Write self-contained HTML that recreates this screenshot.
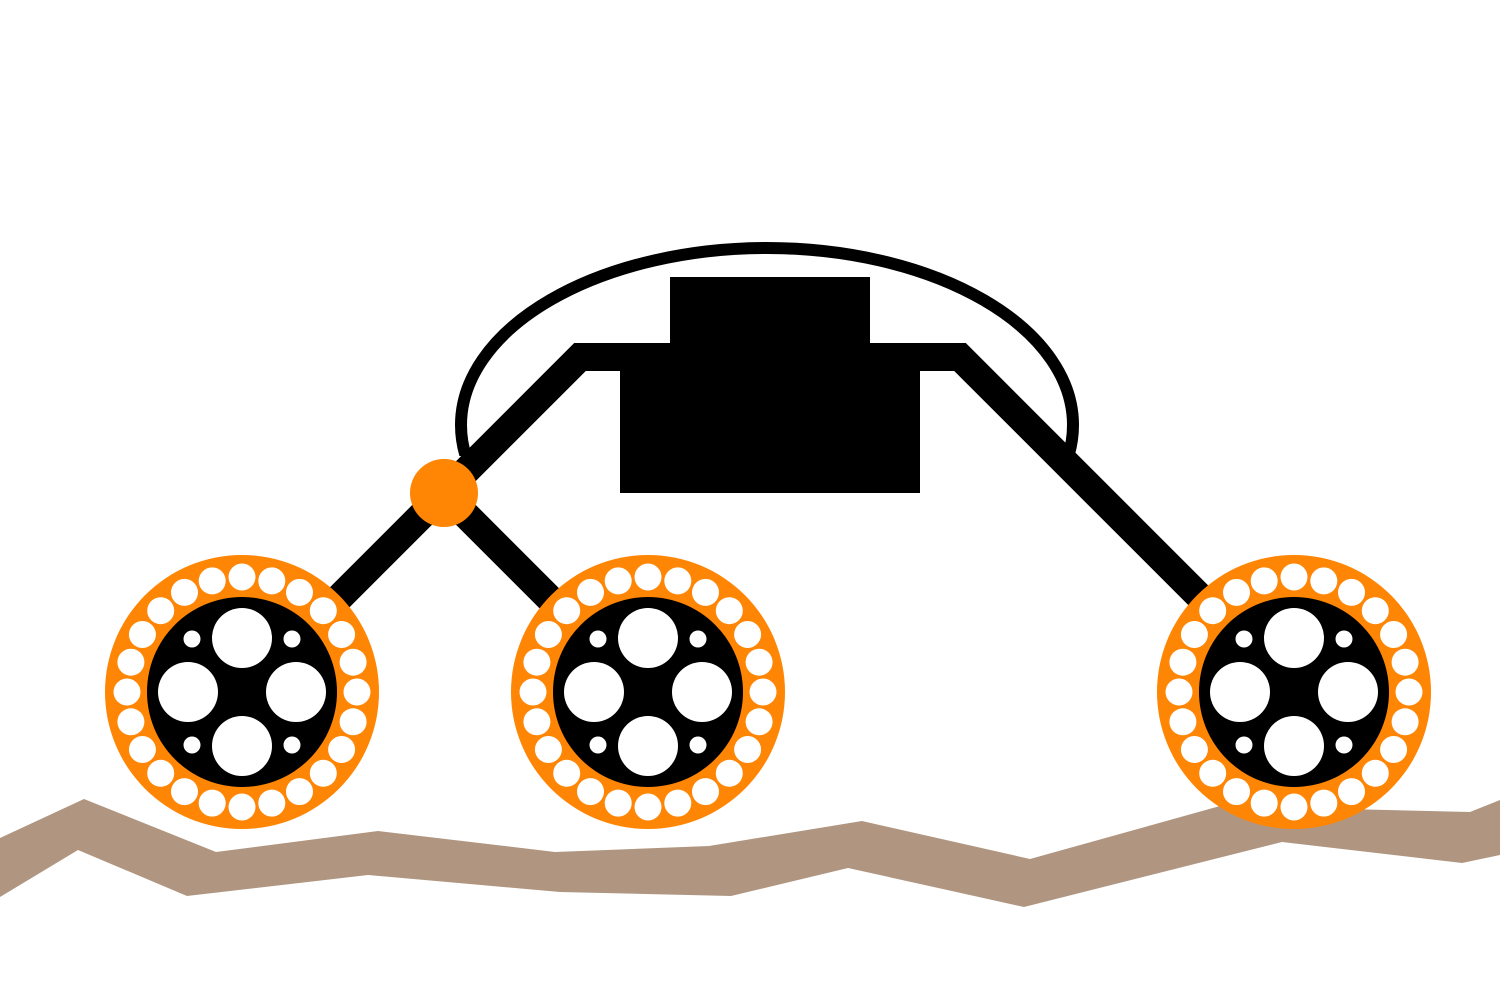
<!DOCTYPE html>
<html><head><style>html,body{margin:0;padding:0;background:#fff;}svg{display:block}</style></head>
<body>
<svg width="1500" height="1000" viewBox="0 0 1500 1000" xmlns="http://www.w3.org/2000/svg">
<defs>
<clipPath id="c"><rect x="0" y="0" width="1500" height="456"/></clipPath>
<g id="wheel">
  <circle r="137" fill="#ff8504"/>
  <circle r="95" fill="#000"/>
  <g fill="#fff">
    <circle cx="0" cy="-54" r="30"/><circle cx="0" cy="54" r="30"/>
    <circle cx="-54" cy="0" r="30"/><circle cx="54" cy="0" r="30"/>
    <circle cx="-50" cy="-53" r="8.5"/><circle cx="50" cy="-53" r="8.5"/>
    <circle cx="-50" cy="53" r="8.5"/><circle cx="50" cy="53" r="8.5"/>
  </g>
</g>
<g id="ring" fill="#fff">
<circle cx="0" cy="-115" r="13.5"/><circle cx="29.8" cy="-111.1" r="13.5"/><circle cx="57.5" cy="-99.6" r="13.5"/><circle cx="81.3" cy="-81.3" r="13.5"/><circle cx="99.6" cy="-57.5" r="13.5"/><circle cx="111.1" cy="-29.8" r="13.5"/><circle cx="115" cy="0" r="13.5"/><circle cx="111.1" cy="29.8" r="13.5"/><circle cx="99.6" cy="57.5" r="13.5"/><circle cx="81.3" cy="81.3" r="13.5"/><circle cx="57.5" cy="99.6" r="13.5"/><circle cx="29.8" cy="111.1" r="13.5"/><circle cx="0" cy="115" r="13.5"/><circle cx="-29.8" cy="111.1" r="13.5"/><circle cx="-57.5" cy="99.6" r="13.5"/><circle cx="-81.3" cy="81.3" r="13.5"/><circle cx="-99.6" cy="57.5" r="13.5"/><circle cx="-111.1" cy="29.8" r="13.5"/><circle cx="-115" cy="0" r="13.5"/><circle cx="-111.1" cy="-29.8" r="13.5"/><circle cx="-99.6" cy="-57.5" r="13.5"/><circle cx="-81.3" cy="-81.3" r="13.5"/><circle cx="-57.5" cy="-99.6" r="13.5"/><circle cx="-29.8" cy="-111.1" r="13.5"/>
</g>
</defs>
<polygon fill="#b09680" points="0,838 84,799 216,852 378,831 555,852 709,846 862,821 1030,859 1220,806 1470,812 1500,800 1500,855 1462,863 1282,842 1024,907 848,868 731,896 560,892 368,875 187,896 78,850 0,897"/>
<ellipse cx="767" cy="425" rx="306" ry="177" fill="none" stroke="#000" stroke-width="12" clip-path="url(#c)"/>
<rect x="670" y="277" width="200" height="70" fill="#000"/>
<rect x="620" y="365" width="300" height="128" fill="#000"/>
<polyline points="444,493 580,357 960,357 1210,607" fill="none" stroke="#000" stroke-width="28" stroke-linejoin="miter"/>
<polyline points="330,607 444,493 558,607" fill="none" stroke="#000" stroke-width="28"/>
<circle cx="444" cy="493" r="34" fill="#ff8504"/>
<g transform="translate(242,692)"><use href="#wheel"/><use href="#ring"/></g>
<g transform="translate(648,692)"><use href="#wheel"/><use href="#ring"/></g>
<g transform="translate(1294,692)"><use href="#wheel"/><use href="#ring"/></g>
</svg>
</body></html>
